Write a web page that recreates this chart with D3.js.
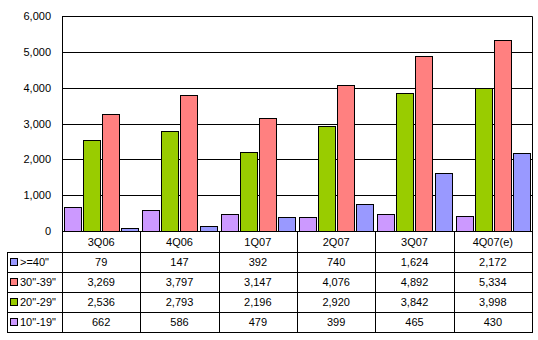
<!DOCTYPE html>
<html>
<head>
<meta charset="utf-8">
<script src="https://cdn.jsdelivr.net/npm/d3@7"></script>
<style>
  html, body { margin: 0; padding: 0; background: #fff; }
  svg text { font-family: "Liberation Sans", Arial, sans-serif; font-size: 11px; fill: #000; }
</style>
</head>
<body>
<svg id="chart" width="538" height="340"></svg>
<script>
// Quarterly shipments by screen size
const quarters = ["3Q06", "4Q06", "1Q07", "2Q07", "3Q07", "4Q07(e)"];
const seriesNames = ["10\"-19\"", "20\"-29\"", "30\"-39\"", ">=40\""];
const s10to19 = [662, 586, 479, 399, 465, 430];
const s20to29 = [2536, 2793, 2196, 2920, 3842, 3998];
const s30to39 = [3269, 3797, 3147, 4076, 4892, 5334];
const s40plus = [79, 147, 392, 740, 1624, 2172];
const yTicks = [0, 1000, 2000, 3000, 4000, 5000, 6000];
const seriesColors = ["#CC99FF", "#99CC00", "#FF8080", "#9999FF"];

const seriesValues = [s10to19, s20to29, s30to39, s40plus];

const svg = d3.select("#chart");
const plot = { left: 62, right: 532, top: 16, bottom: 231 };
const table = { left: 7, headerBottom: 252, rowH: 20 };

const x = d3.scaleBand().domain(quarters).range([plot.left, plot.right]).paddingInner(0).paddingOuter(0);
const xs = d3.scaleBand().domain(seriesNames).range([0, x.bandwidth()]).paddingInner(0.1).paddingOuter(0.1);
const y = d3.scaleLinear().domain([0, 6000]).range([plot.bottom, plot.top]);

const fmt = d3.format(",");

// Gridlines and y labels
const yAxis = d3.axisLeft(y).tickValues(yTicks).tickFormat(fmt).tickSize(0).tickPadding(11);
const ya = svg.append("g").attr("transform", `translate(${plot.left},0)`).call(yAxis);
ya.select(".domain").remove();
ya.selectAll("text").style("font-family", "'Liberation Sans', Arial, sans-serif").style("font-size", "11px").attr("fill", "#000");

svg.append("g").selectAll("line").data(yTicks.filter(t => t > 0)).join("line")
  .attr("x1", plot.left).attr("x2", plot.right)
  .attr("y1", d => Math.round(y(d)) + 0.5).attr("y2", d => Math.round(y(d)) + 0.5)
  .attr("stroke", "#000").attr("stroke-width", 1);

// Bars
const bars = svg.append("g");
seriesNames.forEach((name, si) => {
  bars.selectAll(null).data(seriesValues[si]).join("rect")
    .attr("x", (d, i) => Math.round(x(quarters[i]) + xs(name)) + 0.5)
    .attr("y", d => Math.round(y(d)) + 0.5)
    .attr("width", Math.round(xs.bandwidth()))
    .attr("height", d => Math.max(0, Math.round(y(0)) - Math.round(y(d))))
    .attr("fill", seriesColors[si])
    .attr("stroke", "#000").attr("stroke-width", 1);
});

// Plot frame (left, top, right)
svg.append("path")
  .attr("d", `M${plot.left + 0.5},${plot.bottom}V${plot.top + 0.5}H${plot.right + 0.5}V${plot.bottom}`)
  .attr("fill", "none").attr("stroke", "#000");

// Data table
const tg = svg.append("g");
const rowsOrder = [3, 2, 1, 0];
const tableBottom = table.headerBottom + rowsOrder.length * table.rowH;
const bx = v => Math.round(v) + 0.5;

// horizontal lines
tg.append("line").attr("x1", plot.left).attr("x2", plot.right + 1).attr("y1", bx(plot.bottom)).attr("y2", bx(plot.bottom)).attr("stroke", "#000");
for (let r = 0; r <= rowsOrder.length; r++) {
  const yy = bx(table.headerBottom + r * table.rowH);
  tg.append("line").attr("x1", table.left).attr("x2", plot.right + 1).attr("y1", yy).attr("y2", yy).attr("stroke", "#000");
}
// vertical lines
quarters.forEach(q => {
  tg.append("line").attr("x1", bx(x(q))).attr("x2", bx(x(q))).attr("y1", plot.bottom).attr("y2", tableBottom + 1).attr("stroke", "#000");
});
tg.append("line").attr("x1", bx(plot.right)).attr("x2", bx(plot.right)).attr("y1", plot.bottom).attr("y2", tableBottom + 1).attr("stroke", "#000");
tg.append("line").attr("x1", bx(table.left)).attr("x2", bx(table.left)).attr("y1", table.headerBottom).attr("y2", tableBottom + 1).attr("stroke", "#000");

// header labels
tg.selectAll("text.hdr").data(quarters).join("text").attr("class", "hdr")
  .attr("x", d => x(d) + x.bandwidth() / 2)
  .attr("y", (plot.bottom + table.headerBottom) / 2 + 4)
  .attr("text-anchor", "middle").text(d => d);

// rows
rowsOrder.forEach((si, r) => {
  const cy = table.headerBottom + r * table.rowH + table.rowH / 2;
  tg.append("rect").attr("x", 10.5).attr("y", Math.round(cy - 4) + 0.5).attr("width", 7).attr("height", 7)
    .attr("fill", seriesColors[si]).attr("stroke", "#000");
  tg.append("text").attr("x", 20).attr("y", cy + 4).text(seriesNames[si]);
  tg.selectAll(null).data(seriesValues[si]).join("text")
    .attr("x", (d, i) => x(quarters[i]) + x.bandwidth() / 2)
    .attr("y", cy + 4).attr("text-anchor", "middle").text(d => fmt(d));
});
</script>
</body>
</html>
